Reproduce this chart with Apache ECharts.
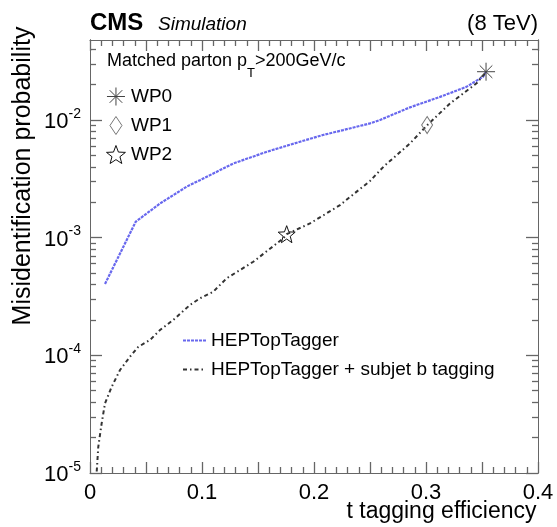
<!DOCTYPE html>
<html><head><meta charset="utf-8">
<script src="https://cdn.jsdelivr.net/npm/echarts@6/dist/echarts.min.js"></script>
<style>html,body{margin:0;padding:0;background:#fff}#c{width:557px;height:527px}</style>
</head><body><div id="c"></div>
<script>
// HEPTopTagger
const effHTT = [0.0134, 0.0408, 0.0625, 0.0863, 0.0982, 0.128, 0.158, 0.1875, 0.208, 0.226, 0.25, 0.259, 0.2857, 0.3125, 0.336, 0.351, 0.3536];
const misHTT = [4.04e-4, 1.365e-3, 1.95e-3, 2.71e-3, 3.08e-3, 4.27e-3, 5.37e-3, 6.53e-3, 7.45e-3, 8.2e-3, 9.35e-3, 1.0e-2, 1.28e-2, 1.57e-2, 1.91e-2, 2.33e-2, 2.57e-2];
// HEPTopTagger + subjet b tagging
const effHTTb = [0.006, 0.0074, 0.0104, 0.0134, 0.0194, 0.0268, 0.0357, 0.0431, 0.0536, 0.0625, 0.0744, 0.0893, 0.0982, 0.110, 0.122, 0.1458, 0.1726, 0.1756, 0.1964, 0.2232, 0.232, 0.25, 0.262, 0.2857, 0.3012, 0.3214, 0.3452, 0.3527];
const misHTTb = [1.03e-5, 1.67e-5, 2.64e-5, 3.91e-5, 5.41e-5, 7.5e-5, 9.73e-5, 1.18e-4, 1.35e-4, 1.64e-4, 2.0e-4, 2.68e-4, 3.05e-4, 3.47e-4, 4.51e-4, 6.24e-4, 9.86e-4, 1.07e-3, 1.32e-3, 1.89e-3, 2.21e-3, 3.03e-3, 4.0e-3, 6.32e-3, 9.05e-3, 1.38e-2, 2.05e-2, 2.49e-2];
// working points
const wpNames = ['WP0', 'WP1', 'WP2'];
const wpEff = [0.3536, 0.301, 0.1756];
const wpMis = [0.0257, 0.00905, 0.00107];
// axes
const xTickLabels = [0, 0.1, 0.2, 0.3, 0.4];
const yDecades = [1e-5, 1e-4, 1e-3, 1e-2];
const yMin = 1e-5, yMax = 0.0478;

const seriesNames = ['HEPTopTagger', 'HEPTopTagger + subjet b tagging'];
const FONT = '"Liberation Sans", Arial, Helvetica, sans-serif';

const yMinor = [];
yDecades.forEach(d => { for (let k = 2; k <= 9; k++) { const v = k * d; if (v <= yMax) yMinor.push(v); } });
const lg = v => Math.log10(v);

const zip = (a, b) => a.map((v, i) => [v, b[i]]);

const axisCol = '#666';
const tickCol = '#666';

function xAx(pos, showLabel) {
  return {
    type: 'value', position: pos, min: 0, max: 0.4, interval: 0.05,
    axisLine: { show: true, lineStyle: { color: axisCol, width: 1 } },
    axisTick: { show: true, inside: true, length: 11, lineStyle: { color: tickCol, width: 1.3 } },
    minorTick: { show: true, splitNumber: 5, length: 6, lineStyle: { color: tickCol, width: 1.3 } },
    splitLine: { show: false }, minorSplitLine: { show: false },
    axisLabel: {
      show: showLabel, margin: 9, fontSize: 22, fontFamily: FONT, color: '#000',
      formatter: v => {
        const hit = xTickLabels.find(t => Math.abs(t - v) < 1e-6);
        return hit === undefined ? '' : (hit === 0 ? '0' : String(hit));
      }
    }
  };
}
// tick-decoration axes in log10 space (same extent as the log data axis)
function yTickAx(pos, major) {
  return {
    type: 'value', position: pos, min: lg(yMin), max: lg(yMax),
    axisLine: { show: true, lineStyle: { color: axisCol, width: 1 } },
    axisTick: { show: true, inside: true, length: major ? 12 : 6, customValues: (major ? yDecades : yMinor).map(lg), lineStyle: { color: tickCol, width: 1.3 } },
    axisLabel: { show: false },
    splitLine: { show: false }
  };
}

const asterisk = 'path://M0,10L20,10M10,0L10,20M3,3L17,17M17,3L3,17';
const star = 'path://M10,0L12.47,6.6L19.51,6.91L13.99,11.3L15.88,18.09L10,14.2L4.12,18.09L6.01,11.3L0.49,6.91L7.53,6.6Z';
const thinDiamond = 'path://M6,0L12,9L6,18L0,9Z';
const wpStyle = [
  { symbol: asterisk, size: 18, border: '#444' },
  { symbol: thinDiamond, size: [11, 17], border: '#777' },
  { symbol: star, size: 17, border: '#111' }
];

const chart = echarts.init(document.getElementById('c'), null, { renderer: 'canvas' });
chart.setOption({
  animation: false,
  backgroundColor: '#fff',
  grid: { left: 90, right: 19, top: 40, bottom: 54, containLabel: false },
  xAxis: [xAx('bottom', true), xAx('top', false)],
  yAxis: [
    {
      type: 'log', logBase: 10, position: 'left', min: yMin, max: yMax,
      axisLine: { show: true, lineStyle: { color: axisCol, width: 1 } },
      axisTick: { show: false }, splitLine: { show: false },
      axisLabel: {
        show: true, margin: 9, customValues: yDecades,
        formatter: v => '{b|10}{s|' + Math.round(Math.log10(v)) + '}',
        rich: {
          b: { fontSize: 22, fontFamily: FONT, color: '#000', lineHeight: 26, verticalAlign: 'bottom' },
          s: { fontSize: 14, fontFamily: FONT, color: '#000', lineHeight: 14, verticalAlign: 'top' }
        }
      }
    },
    yTickAx('left', true), yTickAx('left', false), yTickAx('right', true), yTickAx('right', false)
  ],
  legend: [
    {
      data: wpNames.map((n, i) => ({ name: n, icon: wpStyle[i].symbol, itemStyle: { color: 'rgba(255,255,255,0)', borderColor: wpStyle[i].border, borderWidth: 1 } })),
      orient: 'vertical', left: 106, top: 87, padding: 0, itemWidth: 20, itemHeight: 18, itemGap: 10,
      textStyle: { fontSize: 19, fontFamily: FONT, color: '#000', lineHeight: 18 },
      selectedMode: false
    },
    {
      data: seriesNames, orient: 'vertical', left: 182, top: 331, padding: 0, itemWidth: 23, itemHeight: 14, itemGap: 10,
      itemStyle: { opacity: 0 },
      textStyle: { fontSize: 19, fontFamily: FONT, color: '#000', lineHeight: 19 },
      selectedMode: false
    }
  ],
  series: [
    {
      name: seriesNames[0], type: 'line', data: zip(effHTT, misHTT), symbol: 'none', smooth: false,
      color: '#4a4af2',
      lineStyle: { color: '#6868ee', width: 2.2, type: [3, 1] }, z: 3
    },
    {
      name: seriesNames[1], type: 'line', data: zip(effHTTb, misHTTb), symbol: 'none', smooth: false,
      color: '#222',
      lineStyle: { color: '#333', width: 2, type: [4, 3, 1.5, 3] }, z: 3
    }
  ].concat(wpNames.map((n, i) => ({
    name: n, type: 'scatter', data: [[wpEff[i], wpMis[i]]],
    symbol: wpStyle[i].symbol, symbolSize: wpStyle[i].size, z: 5,
    itemStyle: { color: 'rgba(255,255,255,0)', borderColor: wpStyle[i].border, borderWidth: 1, opacity: 1 }
  }))),
  graphic: [
    { type: 'text', x: 90, y: 23, style: { text: 'CMS', font: 'bold 24px ' + FONT, fill: '#000', textVerticalAlign: 'middle' } },
    { type: 'text', x: 158, y: 24.5, style: { text: 'Simulation', font: 'italic 19px ' + FONT, fill: '#000', textVerticalAlign: 'middle' } },
    { type: 'text', x: 538, y: 24, style: { text: '(8 TeV)', font: '22px ' + FONT, fill: '#000', textAlign: 'right', textVerticalAlign: 'middle' } },
    {
      type: 'text', x: 107, y: 52,
      style: {
        text: '{a|Matched parton p}{sub|T}{a|>200GeV/c}', textVerticalAlign: 'top',
        rich: {
          a: { fontSize: 18, fontFamily: FONT, fill: '#000', lineHeight: 20, verticalAlign: 'top' },
          sub: { fontSize: 13, fontFamily: FONT, fill: '#000', lineHeight: 13, verticalAlign: 'top', padding: [15, 0, 0, 0] }
        }
      }
    },
    { type: 'text', x: 441.5, y: 512, style: { text: 't tagging efficiency', font: '23px ' + FONT, fill: '#000', textAlign: 'center', textVerticalAlign: 'middle' } },
    { type: 'text', x: 23, y: 176, rotation: Math.PI / 2, style: { text: 'Misidentification probability', font: '25px ' + FONT, fill: '#000', textAlign: 'center', textVerticalAlign: 'middle' } }
  ]
});
</script>
</body></html>
